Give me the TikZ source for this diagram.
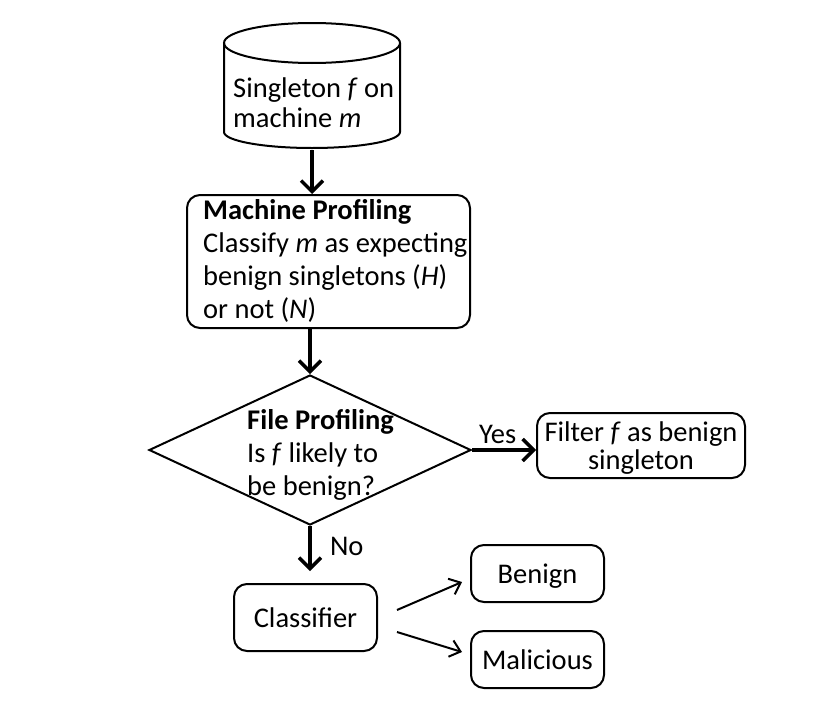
\documentclass[tikz,border=0pt]{standalone}
\usepackage{fontspec}
\setmainfont{Carlito}
\usetikzlibrary{shapes.geometric,arrows.meta}
\begin{document}
\begin{tikzpicture}[x=1pt,y=-1pt,
  every node/.style={text=black},
  fnt/.style={font=\fontsize{28.5}{#1}\selectfont},
  box/.style={draw, line width=2pt, rounded corners=13pt, inner sep=0pt},
  txt/.style={inner sep=0pt},
  bigarrow/.style={line width=4pt, -{Straight Barb[length=11pt,width=22pt,line width=3.5pt]}},
  smallarrow/.style={line width=2pt, -{Straight Barb[length=10pt,width=17pt,line width=2pt]}}
]
\useasboundingbox (0,0) rectangle (818,712);
% cylinder
\draw[line width=2pt] (312,43) ellipse[x radius=88pt, y radius=20pt];
\draw[line width=2pt] (224,43) -- (224,132) arc[start angle=180, end angle=360, x radius=88pt, y radius=16pt] -- (400,43);
\node[txt, fnt=30, align=left, anchor=west] (cyltxt) at (233,103) {Singleton \textit{f} on\\machine \textit{m}};
\coordinate (cylbot) at (312,150);
% machine profiling
\node[box, minimum width=283pt, minimum height=133pt] (mp) at (328.5,261.5) {};
\node[txt, fnt=33, align=left, anchor=north west] (mptxt) at (203,199) {\textbf{Machine Profiling}\\Classify \textit{m} as expecting\\benign singletons (\textit{H})\\or not (\textit{N})};
% file profiling diamond
\node[diamond, draw, line width=2pt, minimum width=322pt, minimum height=150pt, inner sep=0pt] (fp) at (310,450) {};
\node[txt, fnt=33, align=left, anchor=north west] (fptxt) at (247,409) {\textbf{File Profiling}\\Is \textit{f} likely to\\be benign?};
% filter
\node[box, fnt=28, align=center, text depth=0pt, minimum width=208pt, minimum height=65pt] (flt) at (641,445.5) {Filter \textit{f} as benign\\singleton};
% classifier and outcomes
\node[box, fnt=30, text height=20pt, text depth=0pt, minimum width=143pt, minimum height=67pt] (cls) at (305.5,617.5) {Classifier};
\node[box, fnt=30, text height=20pt, text depth=0pt, minimum width=133pt, minimum height=57pt] (ben) at (537.5,573.5) {Benign};
\node[box, fnt=30, text height=20pt, text depth=0pt, minimum width=133pt, minimum height=57pt] (mal) at (537.5,659.5) {Malicious};
% connectors
\draw[bigarrow] (cylbot) -- (cylbot |- mp.north);
\draw[bigarrow] (mp.south -| fp.north) -- (fp.north);
\draw[bigarrow] (fp.east) -- node[fnt=30, above, inner sep=4pt, pos=0.4] (yes) {Yes} (fp.east -| flt.west);
\draw[bigarrow, shorten >=12pt] (fp.south) -- node[fnt=30, right, inner sep=0pt, xshift=18pt, pos=0.35] (no) {No} (fp.south |- cls.north);
\draw[smallarrow] ([xshift=19pt,yshift=7.5pt]cls.east) -- ([xshift=-8pt,yshift=-8.5pt]ben.west);
\draw[smallarrow] ([xshift=19pt,yshift=-14.5pt]cls.east) -- ([xshift=-8pt,yshift=7.5pt]mal.west);
\end{tikzpicture}
\end{document}
